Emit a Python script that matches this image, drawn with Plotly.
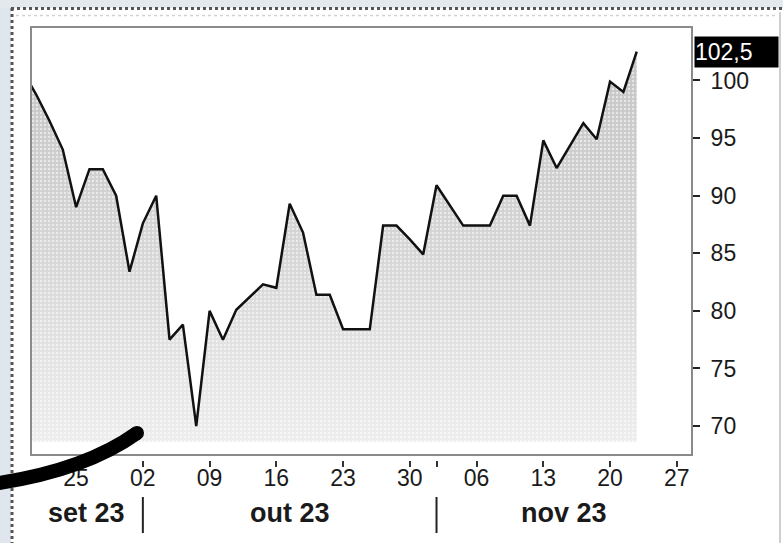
import numpy as np
import pandas as pd
import plotly.graph_objects as go

# Weekday calendar used by the horizontal axis (weekends removed)
axis_days = pd.bdate_range("2023-09-19", "2023-11-30")

# Daily closing values, 19 Sep - 22 Nov 2023
closes = [
    100.8, 98.8, 96.5, 94.0,                 # 19-22 set
    89.0, 92.3, 92.3, 90.0, 83.4,            # 25-29 set
    87.6, 90.0, 77.5, 78.8, 70.0,            # 02-06 out
    80.0, 77.5, 80.1, 81.2, 82.3,            # 09-13 out
    82.0, 89.3, 86.8, 81.4, 81.4,            # 16-20 out
    78.4, 78.4, 78.4, 87.4, 87.4,            # 23-27 out
    86.2, 84.9, 90.9, 89.1, 87.4,            # 30 out - 03 nov
    87.4, 87.4, 90.0, 90.0, 87.4,            # 06-10 nov
    94.8, 92.4, 94.4, 96.3, 94.9,            # 13-17 nov
    99.9, 99.0, 102.5,                       # 20-22 nov
]

month_names = {9: "set", 10: "out", 11: "nov"}
y_ticks = [70, 75, 80, 85, 90, 95, 100]
x_range = [0.62, 50.14]
y_range = [67.49, 104.64]
fill_base = 68.65

# ---------------------------------------------------------------- geometry
W, H = 783, 543
ML, MR, MT, MB = 31, 91, 27, 83
PW, PH = W - ML - MR, H - MT - MB
GAP = 5  # space between plot frame and the date axis ticks


def px_x(px):
    return (px - ML) / PW


def px_y(py):
    return (H - MB - py) / PH


def idx_to_paper(i):
    return (i - x_range[0]) / (x_range[1] - x_range[0])


n = len(closes)
x = np.arange(n)

# ticks: every Monday in view plus the first session of each month
month_starts = [i for i in range(1, len(axis_days))
                if axis_days[i].month != axis_days[i - 1].month]
tick_idx, tick_txt = [], []
for i, d in enumerate(axis_days):
    if not (x_range[0] <= i <= x_range[1]):
        continue
    if d.weekday() == 0:
        tick_idx.append(i)
        tick_txt.append(d.strftime("%d"))
    elif i in month_starts:
        tick_idx.append(i)
        tick_txt.append("")

FONT = "Liberation Sans, Arial, sans-serif"
INK = "#1a1a1a"

fig = go.Figure()

# shaded area under the line
fig.add_trace(go.Scatter(x=x, y=[fill_base] * n, mode="lines",
                         line=dict(width=0), hoverinfo="skip", showlegend=False))
fig.add_trace(go.Scatter(
    x=x, y=closes, mode="lines", fill="tonexty",
    fillgradient=dict(type="vertical", start=fill_base, stop=100,
                      colorscale=[[0, "#ededed"], [0.5, "#d6d6d6"], [1, "#c6c6c6"]]),
    line=dict(width=0), hoverinfo="skip", showlegend=False))
# halftone dot texture over the shading
fig.add_trace(go.Scatter(x=x, y=[fill_base] * n, mode="lines",
                         line=dict(width=0), hoverinfo="skip", showlegend=False))
fig.add_trace(go.Scatter(
    x=x, y=closes, mode="lines", fill="tonexty", fillcolor="rgba(0,0,0,0)",
    fillpattern=dict(shape=".", fgcolor="#ffffff", fgopacity=0.55, size=4, solidity=0.3),
    line=dict(width=0), hoverinfo="skip", showlegend=False))
# price line
fig.add_trace(go.Scatter(x=x, y=closes, mode="lines",
                         line=dict(color="#111111", width=2.5),
                         showlegend=False))

shapes = []
# window backdrop and dotted frame
shapes.append(dict(type="rect", xref="paper", yref="paper", layer="below",
                   x0=px_x(0), x1=px_x(11), y0=px_y(H), y1=px_y(0),
                   fillcolor="#dfe6ed", line=dict(width=0)))
shapes.append(dict(type="rect", xref="paper", yref="paper", layer="below",
                   x0=px_x(0), x1=px_x(W), y0=px_y(8), y1=px_y(0),
                   fillcolor="#e4e9ee", line=dict(width=0)))
shapes.append(dict(type="line", xref="paper", yref="paper", layer="below",
                   x0=px_x(12), x1=px_x(12), y0=px_y(8), y1=px_y(H),
                   line=dict(color="#555555", width=3, dash="dot")))
shapes.append(dict(type="line", xref="paper", yref="paper", layer="below",
                   x0=px_x(11), x1=px_x(W), y0=px_y(8.5), y1=px_y(8.5),
                   line=dict(color="#555555", width=3, dash="dot")))
shapes.append(dict(type="line", xref="paper", yref="paper", layer="below",
                   x0=px_x(16), x1=px_x(778), y0=px_y(15.5), y1=px_y(15.5),
                   line=dict(color="#d2d2d2", width=1.5, dash="dot")))
shapes.append(dict(type="line", xref="paper", yref="paper", layer="below",
                   x0=px_x(780), x1=px_x(780), y0=px_y(12), y1=px_y(H),
                   line=dict(color="#cfcfcf", width=2)))
# plot frame
shapes.append(dict(type="rect", xref="x domain", yref="y domain", layer="above",
                   x0=0, x1=1, y0=0, y1=1, line=dict(color="#8a8a8a", width=2)))
# month separators
for i in month_starts:
    if x_range[0] <= i <= x_range[1]:
        xp = idx_to_paper(i)
        shapes.append(dict(type="line", xref="paper", yref="paper",
                           x0=xp, x1=xp, y0=px_y(497), y1=px_y(533),
                           line=dict(color="#222222", width=2)))
# freehand pen stroke
p0, c, p2 = (-8, 484), (84, 471), (137, 433)
shapes.append(dict(
    type="path", xref="paper", yref="paper", layer="above",
    path=f"M {px_x(p0[0])} {px_y(p0[1])} Q {px_x(c[0])} {px_y(c[1])} {px_x(p2[0])} {px_y(p2[1])}",
    line=dict(color="#000000", width=14)))
shapes.append(dict(type="circle", xref="paper", yref="paper", layer="above",
                   x0=px_x(p2[0] - 7), x1=px_x(p2[0] + 7),
                   y0=px_y(p2[1] + 7), y1=px_y(p2[1] - 7),
                   fillcolor="#000000", line=dict(width=0)))

annotations = []
# month labels centred on their visible span
bounds = [x_range[0]] + [i for i in month_starts if i < x_range[1]] + [x_range[1]]
first_month = axis_days[0].month
for k in range(len(bounds) - 1):
    mid = (bounds[k] + bounds[k + 1]) / 2
    m = first_month + k
    annotations.append(dict(
        xref="x", yref="paper", x=mid, y=0, yanchor="middle", yshift=-(513 - (H - MB)),
        text=f"{month_names[m]} 23", showarrow=False,
        font=dict(family=FONT, size=27, color=INK, weight="bold")))
# last value tag
last = closes[-1]
annotations.append(dict(
    xref="paper", yref="y", x=1, y=last, xanchor="left", yanchor="middle", xshift=2,
    text=f"{last:.1f}".replace(".", ","), showarrow=False,
    bgcolor="#000000", font=dict(family=FONT, size=23, color="#ffffff"),
    width=83, height=30, align="left", borderpad=0))

fig.update_layout(
    width=W, height=H,
    margin=dict(l=ML, r=MR, t=MT, b=MB, pad=0),
    paper_bgcolor="#ffffff", plot_bgcolor="#ffffff",
    shapes=shapes, annotations=annotations,
    xaxis=dict(range=x_range, tickvals=tick_idx, ticktext=tick_txt,
               anchor="free", position=0, showline=False, showgrid=False,
               zeroline=False, ticks="outside", ticklen=6, tickwidth=1.5,
               tickcolor="#333333", ticklabelstandoff=-9,
               tickfont=dict(family=FONT, size=23, color=INK)),
    yaxis=dict(range=y_range, domain=[GAP / PH, 1], side="right",
               tickvals=y_ticks, ticktext=[str(v) for v in y_ticks],
               showline=False, showgrid=False, zeroline=False,
               ticks="outside", ticklen=7, tickwidth=2, tickcolor="#222222",
               ticklabelstandoff=6,
               tickfont=dict(family=FONT, size=23, color=INK)),
)

fig.write_html("out.html")
